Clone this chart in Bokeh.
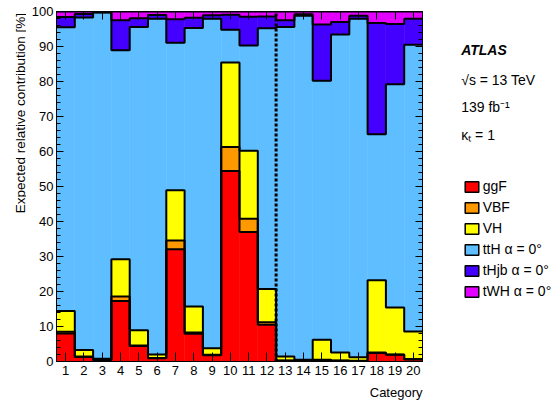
import numpy as np
from bokeh.plotting import figure
from bokeh.layouts import row, column
from bokeh.models import (Range1d, LinearAxis, FixedTicker, SingleIntervalTicker,
                          Label, Legend, LegendItem, ColumnDataSource)
from bokeh.core.properties import value
from bokeh.embed import file_html
from bokeh.resources import INLINE

# ---------------- data (percent contributions per category) ----------------
categories = list(range(1, 21))
ggF  = [8.0, 1.3, 0.4, 17.3, 4.4, 0.9, 32.1, 7.9, 1.8, 54.4, 37.0, 10.5, 0.2, 0.2, 0.4, 0.2, 0.1, 2.4, 1.9, 0.6]
VBF  = [0.5, 0.1, 0.1, 1.3, 0.2, 0.1, 2.5, 0.4, 0.1, 6.9, 3.8, 0.7, 0.1, 0.1, 0.1, 0.1, 0.1, 0.2, 0.1, 0.1]
VH   = [5.9, 1.9, 0.3, 10.6, 4.3, 1.0, 14.3, 7.4, 1.9, 24.1, 19.4, 9.5, 1.1, 0.2, 5.7, 2.3, 1.0, 20.6, 13.4, 7.9]
ttH  = [81.1, 95.0, 98.9, 59.7, 86.7, 95.9, 42.2, 79.6, 94.1, 9.4, 30.1, 74.5, 94.2, 98.3, 74.0, 90.8, 96.7, 41.7, 63.8, 81.9]
tHjb = [2.9, 1.0, 0.1, 8.6, 2.5, 1.1, 6.7, 2.9, 1.0, 4.3, 8.2, 3.4, 1.9, 0.4, 16.1, 3.6, 0.9, 31.8, 17.2, 7.4]
tWH  = [1.6, 0.7, 0.2, 2.5, 1.9, 1.0, 2.2, 1.8, 1.1, 0.9, 1.5, 1.4, 2.5, 0.8, 3.7, 3.0, 1.2, 3.3, 3.6, 2.1]
process_names = ["ggF", "VBF", "VH", "ttH \u03b1 = 0\u00b0", "tHjb \u03b1 = 0\u00b0", "tWH \u03b1 = 0\u00b0"]
colors = ["#ff0000", "#ff9900", "#ffff00", "#5ebeff", "#4400ff", "#e300ff"]
divider = 12.5  # boundary between category groups
y_interval = 10
y_title = "Expected relative contribution [%]"
x_title = "Category"
info_lines = ["\u221as = 13 TeV", "139 fb\u207b\u00b9", "\u03ba\u209c = 1"]

FONT = "Liberation Sans"
W, H = 553, 402
STRIP_H = 20                 # bottom strip holding the x title
ROW_H = H - STRIP_H
TOP = 11
FRAME_BOTTOM = 361           # pixel row of the frame bottom
BOTTOM = ROW_H - FRAME_BOTTOM
LEFT_W, RIGHT_W = 26, 130
MAIN_W = W - LEFT_W - RIGHT_W


def blank_panel(width, height, y0, y1, top, bottom):
    f = figure(width=width, height=height, output_backend="svg", toolbar_location=None,
               title=None, x_range=Range1d(0, width), y_range=Range1d(y0, y1),
               min_border_left=0, min_border_right=0, min_border_top=top,
               min_border_bottom=bottom, x_axis_location=None, y_axis_location=None)
    f.xgrid.visible = False
    f.ygrid.visible = False
    f.outline_line_color = None
    f.background_fill_color = "white"
    f.border_fill_color = "white"
    return f


# ---------------- main plot ----------------
p = figure(width=MAIN_W, height=ROW_H, output_backend="svg", toolbar_location=None,
           title=None, x_range=Range1d(0.5, 20.5), y_range=Range1d(0, 100),
           min_border_left=30, min_border_right=1, min_border_top=TOP, min_border_bottom=BOTTOM,
           x_axis_location=None, y_axis_location=None)
p.xgrid.visible = False
p.ygrid.visible = False
p.outline_line_color = "black"
p.outline_line_width = 1
p.background_fill_color = "white"
p.border_fill_color = "white"

stack = np.vstack([ggF, VBF, VH, ttH, tHjb, tWH])
cum = np.cumsum(stack, axis=0)
bottoms = np.vstack([np.zeros(len(categories)), cum[:-1]])
sources = []
for i in range(len(process_names)):
    src = ColumnDataSource(dict(x=categories, bottom=bottoms[i], top=cum[i]))
    sources.append(src)
    p.vbar(x="x", width=1, bottom="bottom", top="top", source=src,
           fill_color=colors[i], line_color=colors[i], line_width=0.5)

cats = np.array(categories, dtype=float)
edges = np.append(cats - 0.5, cats[-1] + 0.5)
for i in range(len(process_names)):
    yv = np.append(cum[i], cum[i][-1])
    p.step(x=edges, y=yv, mode="after", line_color="black", line_width=2)

p.line(x=[divider, divider], y=[0, 100], line_color="black", line_width=3, line_dash="3 2")


def make_y(show_labels):
    ax = LinearAxis(ticker=SingleIntervalTicker(interval=y_interval, num_minor_ticks=5))
    ax.major_tick_in = 7
    ax.major_tick_out = 0
    ax.minor_tick_in = 4
    ax.minor_tick_out = 0
    ax.axis_line_color = "black"
    ax.major_tick_line_color = "black"
    ax.minor_tick_line_color = "black"
    ax.major_label_text_font = FONT
    ax.major_label_text_color = "black"
    ax.major_label_text_font_size = "13px"
    if show_labels:
        ax.major_label_standoff = 3
    else:
        ax.major_label_overrides = {t: "" for t in range(0, 101, y_interval)}
        ax.major_label_standoff = 0
    return ax


def make_x(show_labels, tick_len):
    ax = LinearAxis(ticker=FixedTicker(ticks=categories, minor_ticks=[]))
    ax.major_tick_in = tick_len
    ax.major_tick_out = 0
    ax.minor_tick_in = 0
    ax.minor_tick_out = 0
    ax.axis_line_color = "black"
    ax.major_tick_line_color = "black"
    ax.major_label_text_font = FONT
    ax.major_label_text_color = "black"
    ax.major_label_text_font_size = "13px"
    if show_labels:
        ax.major_label_standoff = 4
    else:
        ax.major_label_overrides = {t: "" for t in categories}
        ax.major_label_standoff = 0
    return ax


p.add_layout(make_y(True), "left")
p.add_layout(make_y(False), "right")
p.add_layout(make_x(True, 9), "below")
p.add_layout(make_x(False, 8), "above")

# data units of side panels = pixels measured upward from the bottom of the whole canvas
Y0, Y1 = H - FRAME_BOTTOM, H - TOP

# ---------------- left panel: y title ----------------
left = blank_panel(LEFT_W, ROW_H, Y0, Y1, TOP, BOTTOM)
left.add_layout(Label(x=19.5, y=H - 12.5, angle=np.pi / 2, text=y_title, text_align="right",
                      text_baseline="middle", text_font=FONT, text_font_size="13.5px",
                      text_color="black"))

# ---------------- right panel: ATLAS texts + legend ----------------
right = blank_panel(RIGHT_W, ROW_H, Y0, Y1, TOP, BOTTOM)
tx = 37.7
right.add_layout(Label(x=tx, y=H - 49, text="ATLAS", text_font=FONT,
                       text_font_style="bold italic", text_font_size="14px",
                       text_baseline="middle", text_color="black"))
for yy, t in zip([H - 79, H - 106, H - 134], info_lines):
    right.add_layout(Label(x=tx, y=yy, text=t, text_font=FONT, text_font_size="14px",
                           text_baseline="middle", text_color="black"))

items = []
for name, c, src in zip(process_names, colors, sources):
    r = right.vbar(x="x", width=1, bottom="bottom", top="top", source=src,
                   fill_color=c, line_color="black", line_width=1.5, visible=False)
    items.append(LegendItem(label=value(name), renderers=[r]))
legend = Legend(items=items, location=(39.7, 62), orientation="vertical",
                padding=0, margin=0, spacing=5, glyph_width=17, glyph_height=13,
                label_height=16, label_standoff=3, border_line_color=None,
                background_fill_alpha=0, label_text_font=FONT,
                label_text_font_size="14px", label_text_color="black",
                inactive_fill_alpha=0)
right.add_layout(legend)

# ---------------- bottom strip: x title ----------------
strip = blank_panel(W, STRIP_H, 0, STRIP_H, 0, 0)
strip.add_layout(Label(x=422, y=H - 392, text=x_title, text_align="right",
                       text_baseline="middle", text_font=FONT, text_font_size="13px",
                       text_color="black"))

layout = column(row(left, p, right, spacing=0), strip, spacing=0)
open("out.html", "w").write(file_html(layout, INLINE))
